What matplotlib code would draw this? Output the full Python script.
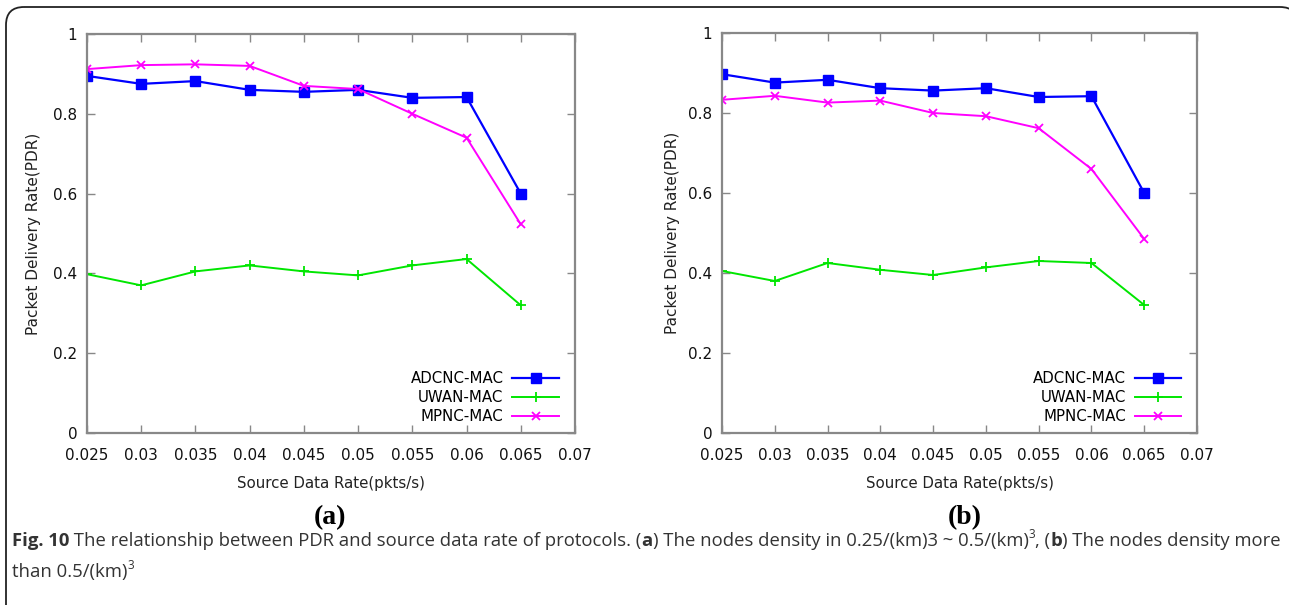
import numpy as np
import matplotlib
matplotlib.use("Agg")
import matplotlib.pyplot as plt
from matplotlib.patches import FancyBboxPatch

# --- data ---
rates = [0.025, 0.03, 0.035, 0.04, 0.045, 0.05, 0.055, 0.06, 0.065]
x_ticks = [0.025, 0.03, 0.035, 0.04, 0.045, 0.05, 0.055, 0.06, 0.065, 0.07]
x_tick_labels = ["0.025", "0.03", "0.035", "0.04", "0.045", "0.05", "0.055", "0.06", "0.065", "0.07"]
y_ticks = [0, 0.2, 0.4, 0.6, 0.8, 1.0]
y_tick_labels = ["0", "0.2", "0.4", "0.6", "0.8", "1"]
protocols = ["ADCNC-MAC", "UWAN-MAC", "MPNC-MAC"]

adcnc_a = [0.895, 0.875, 0.882, 0.860, 0.855, 0.860, 0.840, 0.842, 0.600]
uwan_a = [0.398, 0.370, 0.405, 0.420, 0.405, 0.395, 0.420, 0.436, 0.320]
mpnc_a = [0.912, 0.922, 0.924, 0.920, 0.870, 0.862, 0.800, 0.740, 0.523]

adcnc_b = [0.897, 0.876, 0.883, 0.862, 0.856, 0.862, 0.840, 0.842, 0.600]
uwan_b = [0.405, 0.380, 0.425, 0.408, 0.395, 0.414, 0.430, 0.425, 0.320]
mpnc_b = [0.833, 0.843, 0.826, 0.831, 0.800, 0.792, 0.762, 0.660, 0.485]

styles = [
    dict(color="#0000ff", marker="s", markersize=6.5, lw=1.6),
    dict(color="#00e600", marker="+", markersize=7, mew=1.3, lw=1.4),
    dict(color="#ff00ff", marker="x", markersize=6, mew=1.3, lw=1.4),
]

W, H = 1289, 605
fig = plt.figure(figsize=(W / 100, H / 100), dpi=100)

# rounded frame around the figure, drawn in pixel units (runs off right/bottom)
bg = fig.add_axes([0, 0, 1, 1], zorder=-1)
bg.set_xlim(0, W)
bg.set_ylim(H, 0)
bg.axis("off")
bg.add_patch(FancyBboxPatch((6, 7), 1292, 900,
                            boxstyle="round,pad=0,rounding_size=18",
                            fill=False, edgecolor="#222222", lw=1.3,
                            clip_on=True))

def make_panel(rect, series, tag, tag_x, ylabelpad):
    ax = fig.add_axes(rect)
    for vals, name, st in zip(series, protocols, styles):
        ax.plot(rates, vals, label=name, **st)
    ax.set_xlim(0.025, 0.07)
    ax.set_ylim(0, 1)
    ax.set_xticks(x_ticks)
    ax.set_xticklabels(x_tick_labels)
    ax.set_yticks(y_ticks)
    ax.set_yticklabels(y_tick_labels)
    ax.tick_params(direction="in", length=6, width=1, color="#888888",
                   top=True, right=True, labelsize=11, labelcolor="#111111",
                   pad=7)
    ax.tick_params(axis="x", pad=11)
    for sp in ax.spines.values():
        sp.set_color("#888888")
        sp.set_linewidth(1.6)
    ax.set_xlabel("Source Data Rate(pkts/s)", fontsize=10.8, color="#222222", labelpad=9)
    ax.set_ylabel("Packet Delivery Rate(PDR)", fontsize=11, color="#222222",
                  labelpad=ylabelpad)
    ax.legend(loc="lower right", frameon=False, markerfirst=False,
              fontsize=10.8, handlelength=3.1, handletextpad=0.6,
              labelspacing=0.28, borderaxespad=0, borderpad=0,
              bbox_to_anchor=(0.967, 0.022))
    fig.text(tag_x, 1 - 518 / H, tag, fontsize=20, fontweight="bold",
             family="Liberation Serif", ha="center", va="center")
    return ax

make_panel([87 / W, 1 - 433 / H, (575 - 87) / W, 399 / H],
           [adcnc_a, uwan_a, mpnc_a], "(a)", 330 / W, 9)
make_panel([722 / W, 1 - 433 / H, (1197 - 722) / W, 400 / H],
           [adcnc_b, uwan_b, mpnc_b], "(b)", 965 / W, 6)

# caption, laid out piece by piece
fig.canvas.draw()
renderer = fig.canvas.get_renderer()

def write_line(x_px, y_px, pieces):
    x = x_px
    for txt, weight, size, dy in pieces:
        t = fig.text(x / W, 1 - (y_px - dy) / H, txt, fontsize=size,
                     fontweight=weight, family="Open Sans",
                     color="#333333", va="baseline", ha="left")
        bb = t.get_window_extent(renderer=renderer)
        x += bb.width

cap = 13.3
sup = 8.5
write_line(12, 546, [
    ("Fig. 10", "bold", cap, 0),
    (" The relationship between PDR and source data rate of protocols. (", "normal", cap, 0),
    ("a", "bold", cap, 0),
    (") The nodes density in 0.25/(km)3 ~ 0.5/(km)", "normal", cap, 0),
    ("3", "normal", sup, 8),
    (", (", "normal", cap, 0),
    ("b", "bold", cap, 0),
    (") The nodes density more", "normal", cap, 0),
])
write_line(12, 577, [
    ("than 0.5/(km)", "normal", cap, 0),
    ("3", "normal", sup, 8),
])

fig.savefig("out.png", dpi=100)
